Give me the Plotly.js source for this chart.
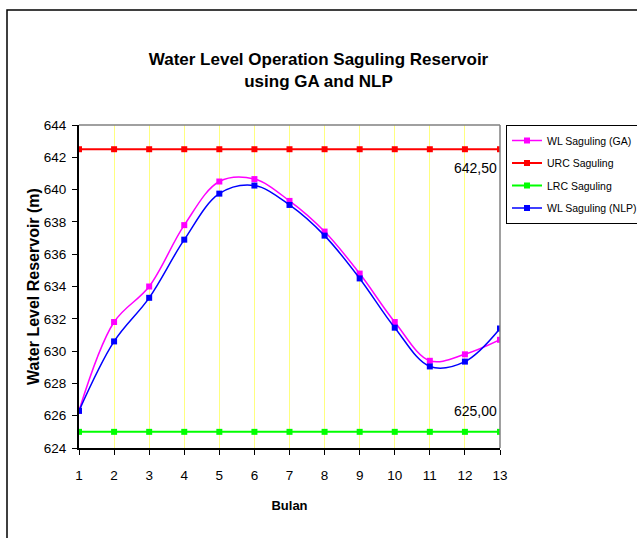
<!DOCTYPE html>
<html>
<head>
<meta charset="utf-8">
<script src="https://cdn.plot.ly/plotly-3.0.1.min.js"></script>
<style>html,body{margin:0;padding:0;background:#fff;}#chart{width:637px;height:538px;}</style>
</head>
<body>
<div id="chart"></div>
<script>
var months = [1, 2, 3, 4, 5, 6, 7, 8, 9, 10, 11, 12, 13];
var wlGA = [626.3, 631.8, 634.0, 637.8, 640.5, 640.65, 639.3, 637.4, 634.8, 631.8, 629.4, 629.8, 630.7];
var urc = [642.5, 642.5, 642.5, 642.5, 642.5, 642.5, 642.5, 642.5, 642.5, 642.5, 642.5, 642.5, 642.5];
var lrc = [625, 625, 625, 625, 625, 625, 625, 625, 625, 625, 625, 625, 625];
var wlNLP = [626.3, 630.6, 633.3, 636.9, 639.75, 640.25, 639.05, 637.15, 634.5, 631.45, 629.05, 629.35, 631.4];
var seriesNames = ["WL Saguling (GA)", "URC Saguling", "LRC Saguling", "WL Saguling (NLP)"];
var urcLabel = "642,50";
var lrcLabel = "625,00";

var SANS = "Liberation Sans, Arial, sans-serif";

function tr(y, name, color, lw, smooth, grp) {
  return {
    x: months, y: y, name: name, type: "scatter", mode: "lines+markers",
    legendgroup: grp,
    line: {color: color, width: lw, shape: smooth ? "spline" : "linear", smoothing: 1},
    marker: {symbol: "square", size: 6, color: color}
  };
}
var data = [
  tr(wlGA, seriesNames[0], "#ff00ff", 1.5, true, "g1"),
  tr(urc, seriesNames[1], "#ff0000", 2, false, "g2"),
  tr(lrc, seriesNames[2], "#00ff00", 2, false, "g3"),
  tr(wlNLP, seriesNames[3], "#0000ff", 1.5, true, "g4")
];

var layout = {
  width: 637, height: 538,
  paper_bgcolor: "#ffffff", plot_bgcolor: "#ffffff",
  margin: {l: 79, r: 137, t: 125, b: 90, autoexpand: false},
  font: {family: SANS, color: "#000"},
  title: {
    text: "<b>Water Level Operation Saguling Reservoir<br>using GA and NLP</b>",
    font: {family: SANS, size: 17, color: "#000"},
    x: 0.5, xref: "container", xanchor: "center",
    y: 1 - 65 / 538, yref: "container", yanchor: "middle"
  },
  xaxis: {
    range: [1, 13], tickmode: "linear", tick0: 1, dtick: 1,
    showgrid: true, gridcolor: "#ffff80", gridwidth: 1,
    showline: true, linecolor: "#000", linewidth: 2,
    ticks: "outside", ticklen: 5, tickcolor: "#000", tickwidth: 1,
    ticklabelstandoff: 9,
    tickfont: {family: SANS, size: 13.5, color: "#000"},
    zeroline: false,
    title: {text: "<b>Bulan</b>", font: {family: SANS, size: 13, color: "#000"}, standoff: 19}
  },
  yaxis: {
    range: [624, 644], tickmode: "linear", tick0: 624, dtick: 2,
    showgrid: false,
    showline: true, linecolor: "#000", linewidth: 2,
    ticks: "outside", ticklen: 5, tickcolor: "#000", tickwidth: 1,
    ticklabelstandoff: 3,
    tickfont: {family: SANS, size: 13.5, color: "#000"},
    zeroline: false,
    title: {text: "<b>Water Level Reservoir (m)</b>", font: {family: SANS, size: 16, color: "#000"}, standoff: 0}
  },
  legend: {
    x: (506 - 79) / 421, xref: "paper", xanchor: "left",
    y: 1, yref: "paper", yanchor: "top",
    bordercolor: "#000", borderwidth: 1, bgcolor: "#fff",
    font: {family: SANS, size: 10.5, color: "#000"},
    itemwidth: 30,
    tracegroupgap: 3.5
  },
  showlegend: true,
  annotations: [
    {x: 13, y: 642.5, xref: "x", yref: "y", text: urcLabel, showarrow: false,
     xanchor: "right", yanchor: "top", yshift: -9, xshift: -1, font: {family: SANS, size: 14, color: "#000"}},
    {x: 13, y: 625, xref: "x", yref: "y", text: lrcLabel, showarrow: false,
     xanchor: "right", yanchor: "bottom", yshift: 11, xshift: -1, font: {family: SANS, size: 14, color: "#000"}}
  ],
  shapes: [
    {type: "line", xref: "paper", yref: "paper", x0: 0, x1: 1, y0: 1, y1: 1, line: {color: "#808080", width: 1.5}},
    {type: "line", xref: "paper", yref: "paper", x0: 1, x1: 1, y0: 0, y1: 1, line: {color: "#808080", width: 1.5}},
    {type: "rect", xref: "paper", yref: "paper", x0: (7 - 79) / 421, x1: 2, y0: -1, y1: (448 - 10) / 323,
     line: {color: "#000", width: 1.5}, fillcolor: "rgba(0,0,0,0)", layer: "below"}
  ]
};

Plotly.newPlot("chart", data, layout, {displayModeBar: false, staticPlot: true});
</script>
</body>
</html>
